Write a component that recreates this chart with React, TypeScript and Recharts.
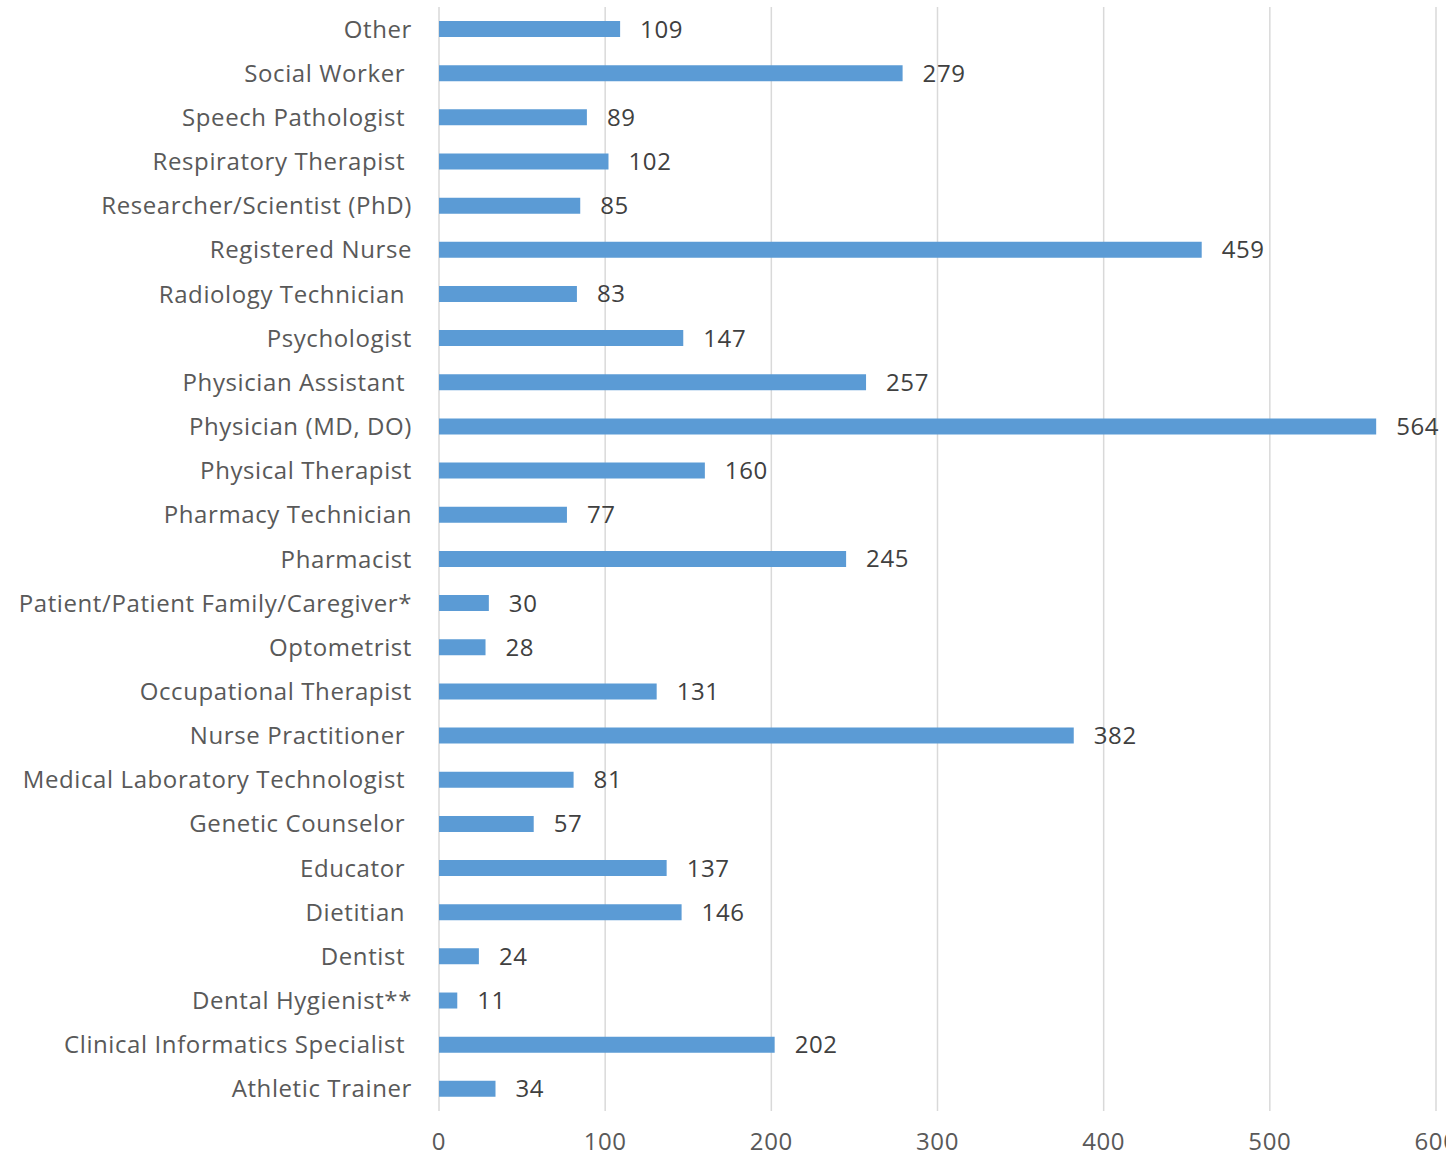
import { BarChart, Bar, XAxis, YAxis, CartesianGrid, LabelList } from "recharts";

// trailing spaces kept as in the source sheet (they shift the right-aligned labels)
const categories = [
  "Other",
  "Social Worker ",
  "Speech Pathologist ",
  "Respiratory Therapist ",
  "Researcher/Scientist (PhD)",
  "Registered Nurse",
  "Radiology Technician ",
  "Psychologist",
  "Physician Assistant ",
  "Physician (MD, DO)",
  "Physical Therapist",
  "Pharmacy Technician",
  "Pharmacist",
  "Patient/Patient Family/Caregiver*",
  "Optometrist",
  "Occupational Therapist",
  "Nurse Practitioner ",
  "Medical Laboratory Technologist ",
  "Genetic Counselor ",
  "Educator ",
  "Dietitian ",
  "Dentist ",
  "Dental Hygienist**",
  "Clinical Informatics Specialist ",
  "Athletic Trainer",
];

const counts = [
  109, 279, 89, 102, 85, 459, 83, 147, 257, 564, 160, 77, 245, 30, 28, 131, 382,
  81, 57, 137, 146, 24, 11, 202, 34,
];

const xTicks = [0, 100, 200, 300, 400, 500, 600];

const data = categories.map((name, i) => ({ name, value: counts[i] }));

const font = "'Open Sans', sans-serif";
const textStyle = { whiteSpace: "pre" as const, letterSpacing: 0.6 };

export default function App() {
  return (
    <div style={{ position: "absolute", left: 0, top: 0 }}>
      <BarChart
        width={1446}
        height={1157}
        data={data}
        layout="vertical"
        margin={{ top: 7, right: 10, left: 0, bottom: 16 }}
        barSize={16}
      >
        <CartesianGrid horizontal={false} stroke="#d9d9d9" strokeWidth={1.5} />
        <XAxis
          type="number"
          domain={[0, 600]}
          ticks={xTicks}
          axisLine={false}
          tickLine={false}
          tickSize={0}
          tickMargin={22}
          height={30}
          interval={0}
          tick={{ fill: "#595959", fontSize: 24, fontFamily: font, style: textStyle }}
        />
        <YAxis
          type="category"
          dataKey="name"
          width={439}
          axisLine={false}
          tickLine={false}
          tickSize={0}
          tickMargin={27}
          interval={0}
          tick={{ fill: "#595959", fontSize: 24, fontFamily: font, style: textStyle }}
        />
        <Bar dataKey="value" fill="#5b9bd5" isAnimationActive={false}>
          <LabelList
            dataKey="value"
            position="right"
            offset={20}
            fill="#404040"
            fontSize={24}
            fontFamily={font}
            style={textStyle}
          />
        </Bar>
      </BarChart>
    </div>
  );
}
